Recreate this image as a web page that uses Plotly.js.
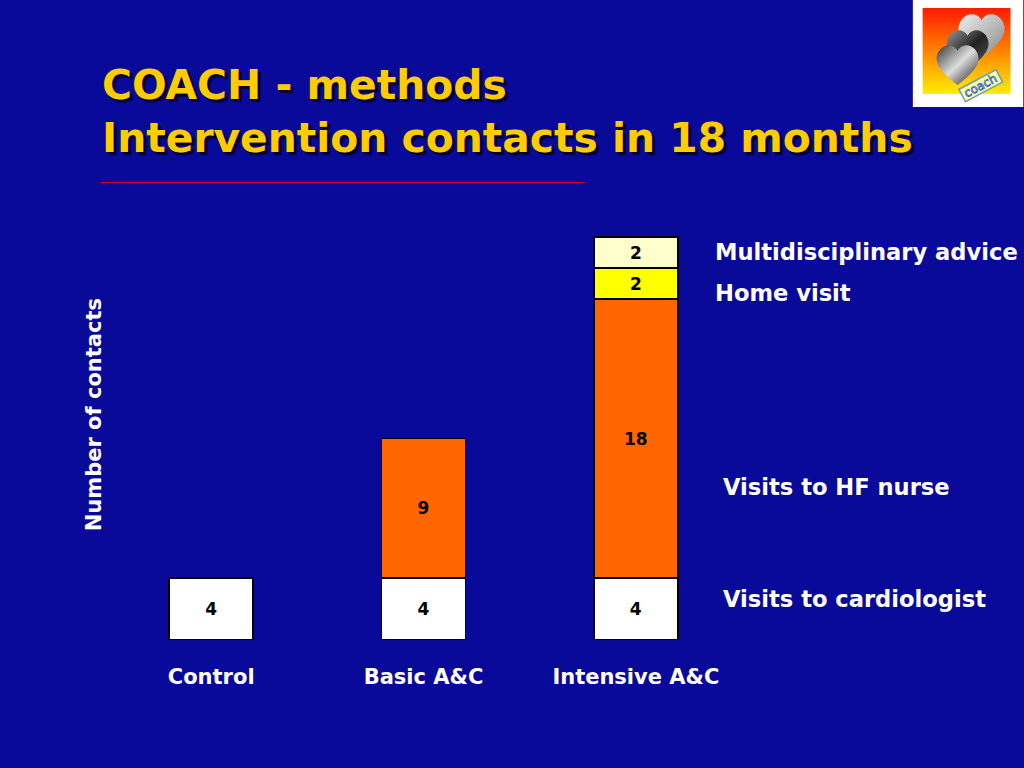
<!DOCTYPE html>
<html>
<head>
<meta charset="utf-8">
<script src="https://cdn.plot.ly/plotly-3.0.1.min.js"></script>
<style>html,body{margin:0;padding:0;background:#0a0a9a;}#chart{width:1024px;height:768px;}</style>
</head>
<body>
<div id="chart"></div>
<script>
var categories = ["Control", "Basic A&C", "Intensive A&C"];
var cardiologist = [4, 4, 4];
var hfNurse = [null, 9, 18];
var homeVisit = [null, null, 2];
var multiAdvice = [null, null, 2];
var seriesNames = ["Visits to cardiologist", "Visits to HF nurse", "Home visit", "Multidisciplinary advice"];

var colors = ["#ffffff", "#ff6600", "#ffff00", "#ffffcc"];
var series = [cardiologist, hfNurse, homeVisit, multiAdvice];

var traces = series.map(function (vals, i) {
  return {
    type: "bar",
    x: categories,
    y: vals,
    name: seriesNames[i],
    width: 0.395,
    marker: { color: colors[i], line: { color: "#000000", width: 1.5 } },
    text: vals.map(function (v) { return v == null ? "" : String(v); }),
    textposition: "inside",
    insidetextanchor: "middle",
    textangle: 0,
    textfont: { family: "DejaVu Sans", size: 17, color: "#000000", weight: "bold" },
    hoverinfo: "skip"
  };
});

var logoSvg = '<svg xmlns="http://www.w3.org/2000/svg" width="111" height="107" viewBox="0 0 111 107">' +
  '<rect width="111" height="107" fill="#ffffff"/>' +
  '<defs><linearGradient id="g" x1="0" y1="0" x2="0" y2="1"><stop offset="0" stop-color="#ff1a00"/><stop offset="1" stop-color="#ffee00"/></linearGradient>' +
  '<linearGradient id="h1" x1="0" y1="0" x2="1" y2="1"><stop offset="0" stop-color="#eeeeee"/><stop offset="1" stop-color="#888888"/></linearGradient>' +
  '<linearGradient id="h2" x1="0" y1="0" x2="1" y2="1"><stop offset="0" stop-color="#999999"/><stop offset="0.5" stop-color="#222222"/><stop offset="1" stop-color="#555555"/></linearGradient>' +
  '<linearGradient id="h3" x1="0" y1="0" x2="1" y2="1"><stop offset="0" stop-color="#333333"/><stop offset="0.5" stop-color="#dddddd"/><stop offset="1" stop-color="#111111"/></linearGradient></defs>' +
  '<rect x="10" y="8" width="88" height="86" fill="url(#g)"/>' +
  '<path d="M70 60 C50 45 45 35 52 25 C58 17 68 20 70 26 C72 20 82 17 88 25 C95 35 90 45 70 60 Z" fill="url(#h1)" transform="translate(-8,-8) scale(1.1)"/>' +
  '<path d="M55 70 C35 55 30 45 37 35 C43 27 53 30 55 36 C57 30 67 27 73 35 C80 45 75 55 55 70 Z" fill="url(#h2)"/>' +
  '<path d="M45 85 C25 70 20 60 27 50 C33 42 43 45 45 51 C47 45 57 42 63 50 C70 60 65 70 45 85 Z" fill="url(#h3)"/>' +
  '<g transform="translate(52,100) rotate(-28)"><rect x="0" y="-12" width="42" height="14" fill="#ffff99" stroke="#6699cc" stroke-width="1.5"/>' +
  '<text x="3" y="-1" font-family="DejaVu Sans" font-size="12" fill="#ffffff" stroke="#3366cc" stroke-width="0.8">coach</text></g>' +
  '</svg>';

var titleFont = { family: "DejaVu Sans", size: 40.8, color: "#ffcc00", weight: "bold", shadow: "3px 3px 1px #000033" };
var labelFont = { family: "DejaVu Sans", size: 22.6, color: "#ffffff", weight: "bold" };

var layout = {
  width: 1024,
  height: 768,
  paper_bgcolor: "#0a0a9a",
  plot_bgcolor: "rgba(0,0,0,0)",
  barmode: "stack",
  showlegend: false,
  margin: { l: 104.75, r: 281.75, t: 206, b: 128 },
  xaxis: {
    range: [-0.5, 2.5],
    showgrid: false,
    zeroline: false,
    showline: false,
    ticks: "outside",
    ticklen: 18,
    tickcolor: "rgba(0,0,0,0)",
    tickfont: { family: "DejaVu Sans", size: 21, color: "#ffffff", weight: "bold" },
    fixedrange: true
  },
  yaxis: {
    range: [0, 28],
    showgrid: false,
    zeroline: false,
    showline: false,
    showticklabels: false,
    ticks: "",
    fixedrange: true
  },
  title: { text: "" },
  annotations: [
    { text: "COACH - methods", xref: "paper", yref: "paper", x: 0, y: 1, xanchor: "left", yanchor: "middle",
      showarrow: false, font: titleFont },
    { text: "Intervention contacts in 18 months", xref: "paper", yref: "paper", x: 0, y: 1, xanchor: "left", yanchor: "middle",
      showarrow: false, font: titleFont },
    { text: "Number of contacts", xref: "paper", yref: "paper", x: 0, y: 0.5, textangle: -90, xanchor: "center", yanchor: "middle",
      showarrow: false, font: { family: "DejaVu Sans", size: 21, color: "#ffffff", weight: "bold" } },
    { text: seriesNames[3], xref: "paper", yref: "paper", x: 0, y: 0, xanchor: "left", yanchor: "middle",
      showarrow: false, font: labelFont },
    { text: seriesNames[2], xref: "paper", yref: "paper", x: 0, y: 0, xanchor: "left", yanchor: "middle",
      showarrow: false, font: labelFont },
    { text: seriesNames[1], xref: "paper", yref: "paper", x: 0, y: 0, xanchor: "left", yanchor: "middle",
      showarrow: false, font: labelFont },
    { text: seriesNames[0], xref: "paper", yref: "paper", x: 0, y: 0, xanchor: "left", yanchor: "middle",
      showarrow: false, font: labelFont }
  ],
  shapes: [
    { type: "line", xref: "paper", yref: "paper", x0: 0, x1: 1, y0: 0, y1: 0, line: { color: "#cc0033", width: 1 } }
  ],
  images: [
    { source: "data:image/svg+xml;charset=utf-8," + encodeURIComponent(logoSvg), xref: "paper", yref: "paper",
      x: 0, y: 0, sizex: 0.1, sizey: 0.1, xanchor: "left", yanchor: "top", sizing: "stretch", layer: "above" }
  ]
};

// Convert pixel positions of decorative text to paper coordinates
var pw = 1024 - 104.75 - 281.75, ph = 768 - 206 - 128;
function px(x) { return (x - 104.75) / pw; }
function py(y) { return (768 - 128 - y) / ph; }
var a = layout.annotations;
a[0].x = px(100); a[0].y = py(85);
a[1].x = px(100); a[1].y = py(138);
a[2].x = px(94); a[2].y = py(415);
a[3].x = px(713); a[3].y = py(252);
a[4].x = px(713); a[4].y = py(293);
a[5].x = px(721); a[5].y = py(487);
a[6].x = px(721); a[6].y = py(599);
layout.shapes[0].x0 = px(100); layout.shapes[0].x1 = px(585);
layout.shapes[0].y0 = py(182.5); layout.shapes[0].y1 = py(182.5);
var im = layout.images[0];
im.x = px(913); im.y = py(0); im.sizex = 111 / pw; im.sizey = 107 / ph;

Plotly.newPlot("chart", traces, layout, { displayModeBar: false, staticPlot: true });
</script>
</body>
</html>
